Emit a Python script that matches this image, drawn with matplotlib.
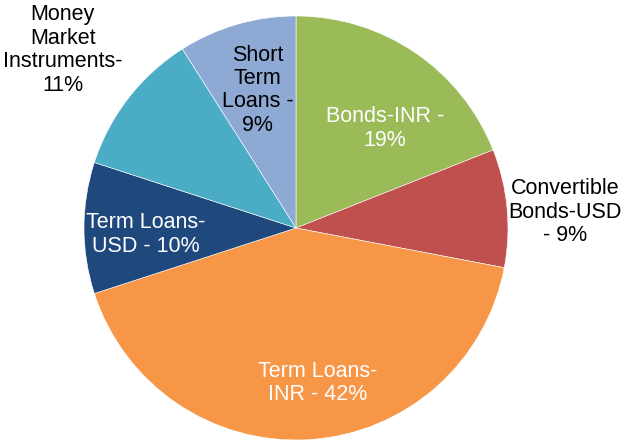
import matplotlib
matplotlib.use("Agg")
import matplotlib.pyplot as plt

labels = ["Bonds-INR -\n19%", "Convertible\nBonds-USD\n- 9%", "Term Loans-\nINR - 42%",
          "Term Loans-\nUSD - 10%", "Money\nMarket\nInstruments-\n11%", "Short\nTerm\nLoans -\n9%"]
shares = [19, 9, 42, 10, 11, 9]
colors = ["#9BBB59", "#C0504D", "#F79646", "#1F497D", "#4BACC6", "#8EA9D4"]
text_colors = ["white", "black", "white", "white", "black", "black"]

# label centres in pie units (radius = 1)
label_xy = [(0.42, 0.47), (1.27, 0.075), (0.10, -0.73), (-0.71, -0.03), (-1.10, 0.84), (-0.18, 0.65)]

plt.rcParams["font.family"] = ["Liberation Sans", "DejaVu Sans"]

fig = plt.figure(figsize=(6.23, 4.42), dpi=100)
ax = fig.add_axes([84 / 623, 2 / 442, 424 / 623, 424 / 442])
ax.pie(shares, colors=colors, startangle=90, counterclock=False,
       wedgeprops=dict(linewidth=0.4, edgecolor="white"))
ax.set_xlim(-1, 1)
ax.set_ylim(-1, 1)

for lab, (x, y), c in zip(labels, label_xy, text_colors):
    ax.text(x, y, lab, ha="center", va="center", color=c, fontsize=15.5,
            linespacing=1.15, multialignment="center", clip_on=False)

fig.savefig("out.png", dpi=100)
